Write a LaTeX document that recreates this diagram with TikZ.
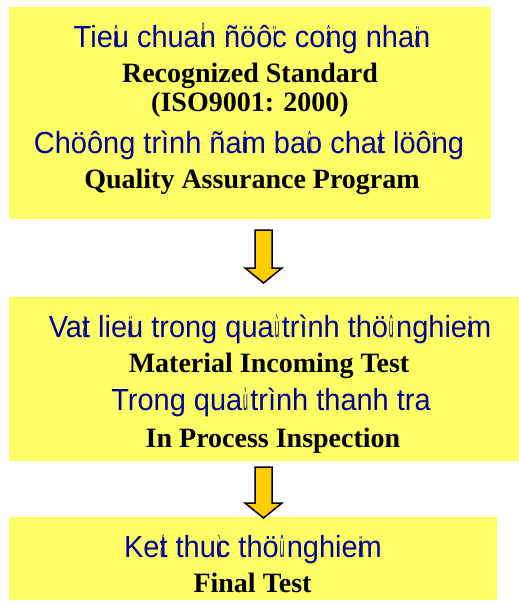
\documentclass[tikz,border=0pt]{standalone}
\usepackage{fontspec}
\setmainfont{Liberation Serif}
\newfontfamily\arialfont{Liberation Sans}
\newcommand\ov[1]{\makebox[0pt][l]{\hspace{0.03em}\scalebox{0.3}[1]{#1}}}
\newcommand\vnt[1]{\scalebox{0.95}[1]{#1}}
\definecolor{boxyellow}{HTML}{FFFF66}
\definecolor{arrowgold}{HTML}{FFCC00}
\definecolor{vnblue}{RGB}{0,0,150}
\tikzset{
  box/.style={fill=boxyellow, draw=none, inner sep=0pt},
  vn/.style={anchor=base, inner sep=0pt, text=vnblue, font=\arialfont\fontsize{30.5}{32}\selectfont},
  en/.style={anchor=base, inner sep=0pt, text=black, font=\bfseries\fontsize{28}{30}\selectfont},
  blockarrow/.style={fill=arrowgold, draw=black, line width=1.5pt, line join=miter}
}
\begin{document}
\begin{tikzpicture}[x=1pt,y=-1pt]
\useasboundingbox (0,0) rectangle (519,603);
% boxes
\node[box, minimum width=482pt, minimum height=212pt] (b1) at (250,113) {};
\node[box, minimum width=522pt, minimum height=164pt] (b2) at (270,379) {};
\node[box, minimum width=488pt, minimum height=83pt] (b3) at (253,558.5) {};
% box 1 text
\node[vn] (t11) at (252,47) {\vnt{Tie\ov{â}u chua\ov{å}n ñöô\ov{ï}c co\ov{â}ng nha\ov{ä}n}};
\node[en] (t12) at (250,82) {Recognized Standard};
\node[en] (t13) at (250,111) {(ISO9001: 2000)};
\node[vn] (t14) at (249,153) {\vnt{Chöông trình ña\ov{û}m ba\ov{û}o cha\ov{á}t löô\ov{ï}ng}};
\node[en] (t15) at (252,188) {Quality Assurance Program};
% box 2 text
\node[vn] (t21) at (270,337) {\vnt{Va\ov{ä}t lie\ov{ä}u trong qua\ov{ù} trình thö\ov{û} nghie\ov{ä}m}};
\node[en] (t22) at (269,372) {Material Incoming Test};
\node[vn] (t23) at (271,410) {\vnt{Trong qua\ov{ù} trình thanh tra}};
\node[en] (t24) at (273,447) {In Process Inspection};
% box 3 text
\node[vn] (t31) at (253,557) {\vnt{Ke\ov{á}t thu\ov{ù}c thö\ov{û} nghie\ov{ä}m}};
\node[en] (t32) at (252.5,592) {Final Test};
% arrows between boxes
\draw[blockarrow] (255,230) -- (272,230) -- (272,268) -- (282,268) -- (263.5,283) -- (245,268) -- (255,268) -- cycle;
\draw[blockarrow] (255,467) -- (272,467) -- (272,503) -- (282,503) -- (263.5,518) -- (245,503) -- (255,503) -- cycle;
\end{tikzpicture}
\end{document}
